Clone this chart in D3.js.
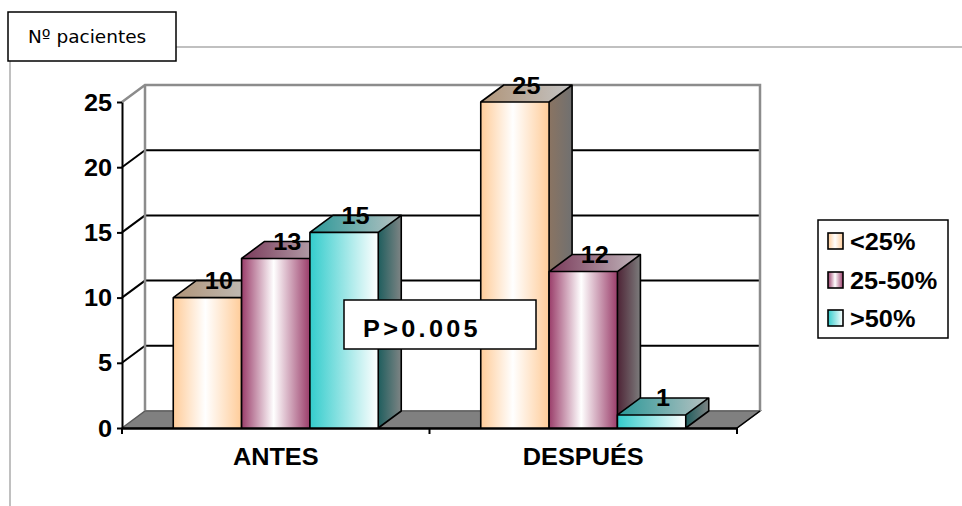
<!DOCTYPE html>
<html>
<head>
<meta charset="utf-8">
<script src="https://cdn.jsdelivr.net/npm/d3@7"></script>
<style>
  html, body { margin: 0; padding: 0; background: #fff; }
  svg { display: block; }
  .bold { font-family: "Liberation Sans", Arial, sans-serif; font-weight: bold; font-size: 23px; fill: #000; }
</style>
</head>
<body>
<svg id="chart" width="962" height="506"></svg>
<script>
// Patients per coverage range, before and after
const categories = ["ANTES", "DESPUÉS"];
const seriesNames = ["<25%", "25-50%", ">50%"];
const valuesAntes = [10, 13, 15];
const valuesDespues = [25, 12, 1];
const yTickValues = [0, 5, 10, 15, 20, 25];
const axisTitle = "Nº pacientes";
const noteText = "P>0.005";

const seriesValues = { "ANTES": valuesAntes, "DESPUÉS": valuesDespues };

// colour ramps: front face, top face, side face
const palettes = {
  "<25%":   { front: ["#FFCC99", "#FFFFFF", "#FFCC99"], top: ["#B09478", "#C4C4C4"], side: ["#8A7462", "#707070"] },
  "25-50%": { front: ["#9A3D6A", "#FFFFFF", "#9A3D6A"], top: ["#7A3A5A", "#C2B8BD"], side: ["#4E2436", "#7C7C7C"] },
  ">50%":   { front: ["#33CCCC", "#FFFFFF"],            top: ["#2A9898", "#B8C2C2"], side: ["#1F5E5E", "#7E8484"] }
};

const svg = d3.select("#chart");
const defs = svg.append("defs");
const SX = 1.1;            // horizontal stretch of the bold labels
const DX = 23, DY = -17;   // depth offset of the 3D box

seriesNames.forEach((s, i) => {
  ["front", "top", "side"].forEach(face => {
    const cols = palettes[s][face];
    const g = defs.append("linearGradient").attr("id", `g-${face}-${i}`)
      .attr("x1", 0).attr("x2", 1).attr("y1", 0).attr("y2", 0);
    const stops = cols.length === 3 ? [0, 0.47, 1] : [0, 1];
    cols.forEach((c, k) => g.append("stop").attr("offset", stops[k]).attr("stop-color", c));
  });
});

const y = d3.scaleLinear().domain([0, 25]).range([428, 102]);
const x0 = d3.scaleBand().domain(categories).range([122, 737]).paddingInner(0).paddingOuter(0);
const x1 = d3.scaleBand().domain(seriesNames).range([0, x0.bandwidth()]).paddingInner(0).paddingOuter(0.75);

const left = x0.range()[0], right = x0.range()[1];
const y0 = y(0), yTop = y(25);

// stretched bold text helper
function boldText(parent, tx, ty, str, anchor) {
  return parent.append("text").attr("class", "bold")
    .attr("transform", `translate(${tx},${ty}) scale(${SX},1)`)
    .attr("text-anchor", anchor || "middle").text(str);
}

// ---- title box and frame lines ----
svg.append("line").attr("x1", 10).attr("x2", 10).attr("y1", 61).attr("y2", 506)
  .attr("stroke", "#c0c0c0").attr("stroke-width", 2);
svg.append("line").attr("x1", 176).attr("x2", 962).attr("y1", 47).attr("y2", 47)
  .attr("stroke", "#c0c0c0").attr("stroke-width", 2);
svg.append("rect").attr("x", 8).attr("y", 12).attr("width", 168).attr("height", 49)
  .attr("fill", "#fff").attr("stroke", "#000").attr("stroke-width", 1.5);
svg.append("text").attr("x", 28).attr("y", 43)
  .attr("font-family", "DejaVu Sans, Verdana, sans-serif").attr("font-size", 18.5)
  .attr("fill", "#000").text(axisTitle);

// ---- walls ----
const wall = svg.append("g");
// floor
wall.append("polygon")
  .attr("points", [[left, y0], [left + DX, y0 + DY], [right + DX, y0 + DY], [right, y0]].join(" "))
  .attr("fill", "#808080").attr("stroke", "#5a5a5a").attr("stroke-width", 1.5);
// grid lines on back wall and side wall
const gridVals = yTickValues.filter(v => v > 0 && v < 25);
wall.selectAll(".gback").data(gridVals).join("line")
  .attr("x1", left + DX).attr("x2", right + DX)
  .attr("y1", d => y(d) + DY).attr("y2", d => y(d) + DY)
  .attr("stroke", "#000").attr("stroke-width", 2);
wall.selectAll(".gside").data(gridVals).join("line")
  .attr("x1", left).attr("x2", left + DX)
  .attr("y1", d => y(d)).attr("y2", d => y(d) + DY)
  .attr("stroke", "#000").attr("stroke-width", 2);
// back wall outline
wall.append("path")
  .attr("d", `M${left},${yTop} L${left + DX},${yTop + DY} L${right + DX},${yTop + DY} L${right + DX},${y0 + DY}`)
  .attr("fill", "none").attr("stroke", "#8c8c8c").attr("stroke-width", 2.5);
wall.append("line").attr("x1", left + DX).attr("x2", left + DX)
  .attr("y1", yTop + DY).attr("y2", y0 + DY).attr("stroke", "#8c8c8c").attr("stroke-width", 2.5);
wall.append("line").attr("x1", left + DX).attr("x2", right + DX)
  .attr("y1", y0 + DY).attr("y2", y0 + DY).attr("stroke", "#6a6a6a").attr("stroke-width", 1.5);
wall.append("line").attr("x1", right).attr("x2", right + DX)
  .attr("y1", y0).attr("y2", y0 + DY).attr("stroke", "#000").attr("stroke-width", 1.5);

// ---- bars ----
const barData = [];
categories.forEach(c => seriesNames.forEach((s, i) => {
  barData.push({ cat: c, s, i, v: seriesValues[c][i] });
}));

const bars = svg.append("g").selectAll("g").data(barData).join("g");
bars.each(function (d) {
  const g = d3.select(this);
  const bx = x0(d.cat) + x1(d.s), w = x1.bandwidth(), top = y(d.v);
  g.append("polygon")
    .attr("points", [[bx + w, top], [bx + w + DX, top + DY], [bx + w + DX, y0 + DY], [bx + w, y0]].join(" "))
    .attr("fill", `url(#g-side-${d.i})`);
  g.append("polygon")
    .attr("points", [[bx, top], [bx + DX, top + DY], [bx + w + DX, top + DY], [bx + w, top]].join(" "))
    .attr("fill", `url(#g-top-${d.i})`);
  g.append("rect").attr("x", bx).attr("y", top).attr("width", w).attr("height", y0 - top)
    .attr("fill", `url(#g-front-${d.i})`);
  g.append("path")
    .attr("d", `M${bx},${y0} V${top} L${bx + DX},${top + DY} H${bx + w + DX} V${y0 + DY} L${bx + w},${y0} V${top} H${bx} M${bx + w},${top} L${bx + w + DX},${top + DY}`)
    .attr("fill", "none").attr("stroke", "#000").attr("stroke-width", 1.6).attr("stroke-linejoin", "round");
});

// ---- axes ----
const yAxis = svg.append("g").attr("transform", `translate(${left},0)`)
  .call(d3.axisLeft(y).tickValues(yTickValues).tickSize(5).tickSizeOuter(0));
yAxis.select(".domain").attr("stroke", "#000").attr("stroke-width", 2);
yAxis.selectAll(".tick line").attr("stroke", "#000").attr("stroke-width", 2);
yAxis.selectAll(".tick text").attr("class", "bold").attr("x", 0).attr("dy", "0.35em")
  .attr("transform", `translate(-10,0) scale(${SX},1)`).style("font-size", "23px")
  .attr("font-family", null).attr("font-size", null);

const xAxis = svg.append("g").attr("transform", `translate(0,${y0})`)
  .call(d3.axisBottom(x0).tickSize(0).tickSizeOuter(0));
xAxis.select(".domain").attr("stroke", "#000").attr("stroke-width", 2.5);
xAxis.selectAll(".tick text").remove();
const edges = [left].concat(categories.map(c => x0(c) + x0.bandwidth()));
xAxis.selectAll(".edge").data(edges).join("line").attr("class", "edge")
  .attr("x1", d => d).attr("x2", d => d).attr("y1", 0).attr("y2", 6)
  .attr("stroke", "#000").attr("stroke-width", 2);
categories.forEach(c => boldText(svg, x0(c) + x0.bandwidth() / 2, 465, c));

// ---- value labels ----
barData.forEach(d => {
  const cx = x0(d.cat) + x1(d.s) + x1.bandwidth() / 2 + DX / 2;
  boldText(svg, cx, y(d.v) + DY + 8.5, String(d.v));
});

// ---- note box ----
svg.append("rect").attr("x", 344).attr("y", 300).attr("width", 192).attr("height", 49)
  .attr("fill", "#fff").attr("stroke", "#000").attr("stroke-width", 1.5);
boldText(svg, 363, 337, noteText, "start").attr("letter-spacing", 3);

// ---- legend ----
const legend = svg.append("g");
legend.append("rect").attr("x", 818).attr("y", 220).attr("width", 130).attr("height", 118)
  .attr("fill", "#fff").attr("stroke", "#000").attr("stroke-width", 1.5);
const legendRows = [241, 280, 318];
seriesNames.forEach((s, i) => {
  legend.append("rect").attr("x", 828).attr("y", legendRows[i] - 8).attr("width", 15).attr("height", 16)
    .attr("fill", `url(#g-front-${i})`).attr("stroke", "#000").attr("stroke-width", 1.6);
  boldText(legend, 850, legendRows[i] + 8.5, s, "start");
});
</script>
</body>
</html>
